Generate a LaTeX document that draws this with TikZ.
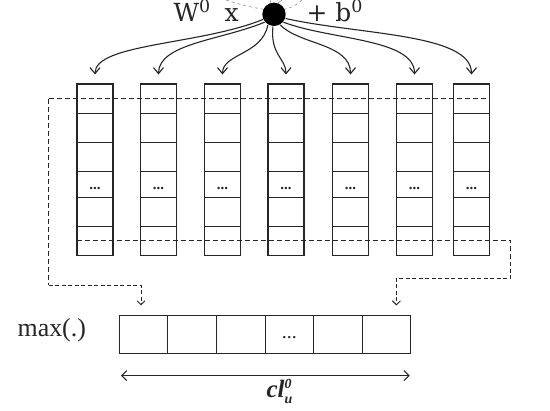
\documentclass[tikz,border=0pt]{standalone}
\usepackage{fontspec}
\setmainfont{Liberation Serif}
\newfontfamily\dvs{DejaVu Serif}
\usetikzlibrary{arrows.meta}
\begin{document}
\begin{tikzpicture}[x=1bp,y=-1bp,line width=1.1bp,color=black!85,
  cell/.style={draw, minimum width=36bp, minimum height=171.7bp, inner sep=0pt},
  bcell/.style={draw, minimum width=48.6bp, minimum height=38.6bp, inner sep=0pt},
  tip/.style={-{Straight Barb[length=6bp,width=10bp]}},
  dtop/.style={dash pattern=on 5bp off 3bp},
  dlow/.style={dash pattern=on 4bp off 2.5bp, line width=0.9bp},
  dotsty/.style={font=\bfseries\fontsize{15}{15}\selectfont, inner sep=0pt},
  topfont/.style={anchor=base west, inner sep=0pt, font=\dvs\fontsize{25}{25}\selectfont}]
\useasboundingbox (0,0) rectangle (550,410);
\fill[white] (0,0) rectangle (550,410);
% bias node
\node[circle, fill=black, minimum size=23.4bp, inner sep=0pt] (n) at (274,14.3) {};
\node[topfont] (w) at (173,21) {W\textsuperscript{0}};
\node[topfont] (x) at (224,21) {x};
\node[topfont] (b) at (306,21) {+ b\textsuperscript{0}};
\coordinate (g1) at (226,0);
\coordinate (g2) at (302,0);
\coordinate (g3) at (270,0);
\coordinate (g4) at (282,0);
\draw[gray, line width=0.5bp, dashed] (g1) .. controls (245,6) .. (n.155);
\draw[gray, line width=0.5bp, dashed] (g2) .. controls (295,6) .. (n.25);
\draw[gray, line width=0.5bp] (g3) -- (n.105);
\draw[gray, line width=0.5bp] (g4) -- (n.70);
% columns
\foreach \i/\cx in {1/95,2/158.5,3/222.5,4/286,5/350.5,6/414.5,7/471.5}{
  \node[cell] (c\i) at (\cx,169.85) {};
  \foreach \yy in {113.3,142.3,171.7,197.3,226.7}
    \draw (c\i.west |- 0,\yy) -- (c\i.east |- 0,\yy);
  \node[dotsty] (d\i) at (\cx,188.2) {...};
}
% arrows from bias node to columns
\draw[tip, shorten >=9bp] (n.205) .. controls (200,45) and +(0,-40) .. (c1.north);
\draw[tip, shorten >=9bp] (n.220) .. controls (222,40) and +(0,-40) .. (c2.north);
\draw[tip, shorten >=9bp] (n.240) .. controls (262,55) and +(0,-30) .. (c3.north);
\draw[tip, shorten >=9bp] (n.265) .. controls (270,55) and +(0,-25) .. (c4.north);
\draw[tip, shorten >=9bp] (n.300) .. controls (300,45) and +(0,-40) .. (c5.north);
\draw[tip, shorten >=9bp] (n.320) .. controls (330,40) and +(0,-45) .. (c6.north);
\draw[tip, shorten >=9bp] (n.340) .. controls (360,35) and +(0,-50) .. (c7.north);
% bottom row
\foreach \i in {1,...,6}{
  \node[bcell] (b\i) at ({119.3+48.6*(\i-0.5)},334.5) {};
}
\node[inner sep=0pt, font=\fontsize{20}{20}\selectfont] (bd) at (b4.center) [yshift=-3bp] {...};
\node[inner sep=0pt, font=\fontsize{26}{26}\selectfont] (m) at (51.8,330) {max(.)};
% dashed selections
\coordinate (tl) at (48.5,98.7);
\coordinate (ta) at (141,305.4);
\coordinate (tb) at (396.4,305.4);
\coordinate (bl) at (76.5,240.5);
\draw[dtop] (tl) -- (c7.east |- tl);
\draw[dtop] (tl) -- (48.5,285.4);
\draw[dlow, -{Straight Barb[length=4bp,width=8bp]}] (48.5,285.4) -| (ta);
\draw[dtop] (bl) -| (510.7,262);
\draw[dlow, -{Straight Barb[length=4bp,width=8bp]}] (510.7,262) |- (396.4,278) -- (tb);
% width arrow
\coordinate (dl) at (121,375.6);
\coordinate (dr) at (409.7,375.6);
\draw[{Straight Barb[length=5bp,width=10bp]}-{Straight Barb[length=5bp,width=10bp]}] (dl) -- (dr);
\node[inner sep=0pt, font=\bfseries\itshape\fontsize{25}{25}\selectfont] (cl) at (279,391)
  {cl\rlap{\raisebox{-6bp}{\fontsize{14}{14}\selectfont u}}\raisebox{9bp}{\fontsize{14}{14}\selectfont 0}};
\end{tikzpicture}
\end{document}
